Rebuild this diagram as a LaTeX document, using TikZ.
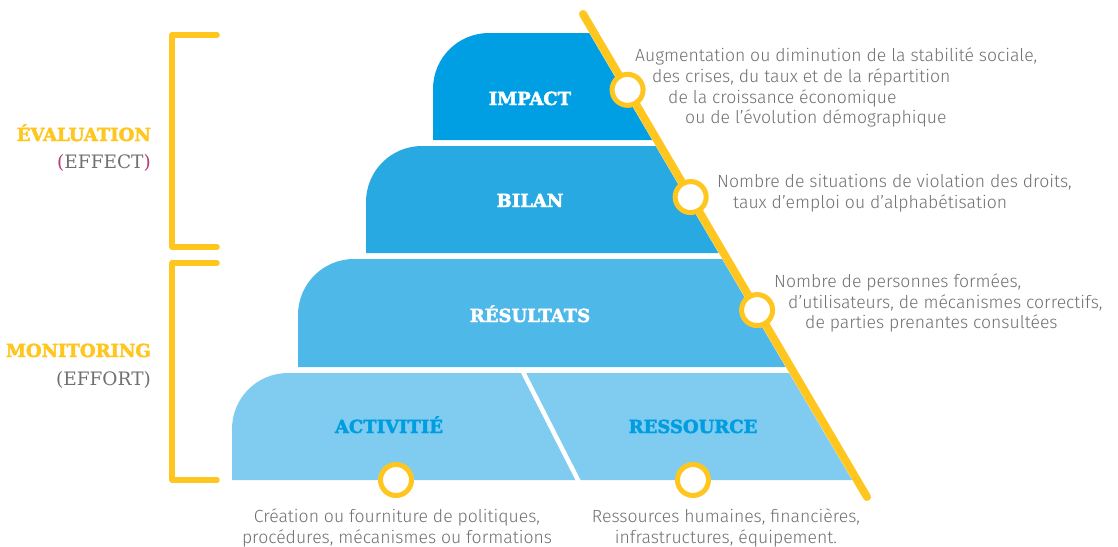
\documentclass[tikz,border=0pt]{standalone}
\usepackage{fontspec}
\setmainfont{Fira Sans Light}
\newfontfamily\slabfont{DejaVu Serif}
\newfontfamily\slabbold[FakeBold=2.5]{DejaVu Serif Bold}

\definecolor{impactblue}{RGB}{0,159,227}
\definecolor{bilanblue}{RGB}{41,169,225}
\definecolor{resultblue}{RGB}{78,184,232}
\definecolor{basisblue}{RGB}{128,204,240}
\definecolor{labelblue}{RGB}{0,157,224}
\definecolor{pathyellow}{RGB}{254,198,30}
\definecolor{notegray}{RGB}{112,112,112}
\definecolor{parenpink}{RGB}{180,60,120}

\tikzset{
	tierlabel/.style={anchor=base, inner sep=0, text=white, font=\slabbold\fontsize{18}{20}\selectfont},
	sidelabel/.style={anchor=base east, inner sep=0, font=\slabfont\fontsize{18.5}{21}\selectfont},
	notetext/.style={anchor=base west, inner sep=0, text=notegray, font=\fontsize{17.6}{21}\selectfont},
	ring/.style={circle, draw=pathyellow, fill=white, line width=5pt, minimum size=31pt, inner sep=0},
	bracket/.style={draw=pathyellow, line width=5.5pt, line cap=round, line join=round},
}

\begin{document}
\begin{tikzpicture}[x=1pt, y=-1pt]
			\useasboundingbox (0,0) rectangle (1118,546);
			
			%pyramid tiers
			\foreach \l/\t/\b/\c in {433/33/140/impactblue, 366/146/253/bilanblue, 298/259/367/resultblue, 232/373/480/basisblue}{
				\fill[\c] (\l,\b) -- (\l,\t+56) .. controls (\l,\t+25) and (\l+25,\t) .. (\l+56,\t)
					-- ({578+0.588*(\t-14)},\t) -- ({578+0.588*(\b-14)},\b) -- cycle;
			}
			\draw[white, line width=4.5pt] (522,370) -- (579,482);
			
			\node[tierlabel] (impact) at (530,105) {IMPACT};
			\node[tierlabel] (bilan) at (530,207) {BILAN};
			\node[tierlabel] (resultats) at (530,322) {RÉSULTATS};
			\node[tierlabel, text=labelblue] (activite) at (389,433) {ACTIVITIÉ};
			\node[tierlabel, text=labelblue] (ressource) at (693,433) {RESSOURCE};
			
			%yellow line with rings
			\coordinate (ltop) at (583,14);
			\coordinate (lbot) at (867,497);
			\draw[pathyellow, line width=8pt, line cap=round] (ltop) -- (lbot)
				node[ring, pos=0.157] (impactring) {}
				node[ring, pos=0.379] (bilanring) {}
				node[ring, pos=0.613] (resultring) {};
			\node[ring] (activitering) at (396,480) {};
			\node[ring] (ressourcering) at (693,480) {};
			
			%brackets
			\draw[bracket] (217,35) -- (172,35) -- (172,247) -- (217,247);
			\draw[bracket] (217,263) -- (172,263) -- (172,480) -- (217,480);
			\node[sidelabel, text=pathyellow, font=\slabbold\fontsize{18}{21}\selectfont] (evaluation) at (151,141) {ÉVALUATION};
			\node[sidelabel, text=notegray] (effect) at (151,168) {\textcolor{parenpink}{(}EFFECT\textcolor{parenpink}{)}};
			\node[sidelabel, text=pathyellow, font=\slabbold\fontsize{18}{21}\selectfont] (monitoring) at (151,357) {MONITORING};
			\node[sidelabel, text=notegray] (effort) at (151,385) {(EFFORT)};
			
			%notes
			\foreach \x/\y/\txt [count=\i] in {
				635/61/{Augmentation ou diminution de la stabilité sociale,},
				652/82/{des crises, du taux et de la répartition},
				668/103/{de la croissance économique},
				685/123/{ou de l’évolution démographique},
				717/187/{Nombre de situations de violation des droits,},
				733/208/{taux d’emploi ou d’alphabétisation},
				774/287/{Nombre de personnes formées,},
				788/308/{d’utilisateurs, de mécanismes correctifs,},
				805/328/{de parties prenantes consultées}}{
				\node[notetext] (note\i) at (\x,\y) {\txt};
			}
			\node[notetext, anchor=base] (activitenote1) at (397,522) {Création ou fourniture de politiques,};
			\node[notetext, anchor=base] (activitenote2) at (397,543) {procédures, mécanismes ou formations};
			\node[notetext, anchor=base] (ressourcenote1) at (726,522) {Ressources humaines, financières,};
			\node[notetext, anchor=base] (ressourcenote2) at (726,543) {infrastructures, équipement.};
\end{tikzpicture}
\end{document}
